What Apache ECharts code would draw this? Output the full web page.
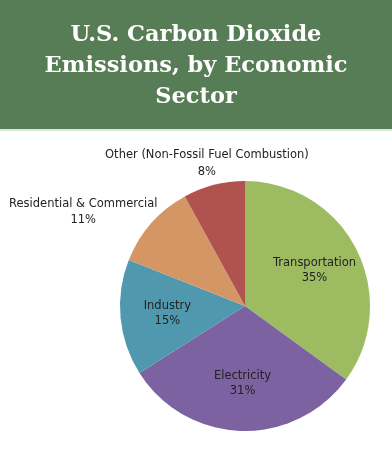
<!DOCTYPE html>
<html>
<head>
<meta charset="utf-8">
<script src="https://cdn.jsdelivr.net/npm/echarts@6/dist/echarts.min.js"></script>
<style>html,body{margin:0;padding:0;background:#fff}#c{width:392px;height:450px}</style>
</head>
<body>
<div id="c"></div>
<script>
const categories = ['Transportation', 'Electricity', 'Industry', 'Residential & Commercial', 'Other (Non-Fossil Fuel Combustion)'];
const values = [35, 31, 15, 11, 8];
const colors = ['#9dbc62', '#7c62a0', '#4f98ae', '#d39664', '#b0534f'];
const titleText = 'U.S. Carbon Dioxide\nEmissions, by Economic\nSector';
const insideSet = [true, true, true, false, false];

const data = categories.map((n, i) => ({ name: n, value: values[i], itemStyle: { color: colors[i] } }));
const labelFont = "'DejaVu Sans', Verdana, sans-serif";

const chart = echarts.init(document.getElementById('c'), null, { renderer: 'canvas' });
chart.setOption({
  backgroundColor: '#ffffff',
  animation: false,
  graphic: [
    { type: 'rect', left: 0, top: 0, shape: { width: 392, height: 129 }, style: { fill: '#577d56' }, z: 0 },
    { type: 'rect', left: 0, top: 129, shape: { width: 392, height: 2 }, style: { fill: '#dce6d9' }, z: 0 }
  ],
  title: {
    text: titleText,
    left: 'center',
    top: 15,
    textStyle: { color: '#ffffff', fontFamily: "'DejaVu Serif', serif", fontWeight: 'bold', fontSize: 22.5, lineHeight: 31 }
  },
  series: [
    {
      type: 'pie',
      center: [245, 306],
      radius: [0, 125],
      startAngle: 90,
      clockwise: true,
      silent: true,
      data: data.map((d, i) => Object.assign({}, d, {
        label: { show: !insideSet[i] },
        labelLine: { show: false, length: 8, length2: 0 }
      })),
      label: {
        position: 'outside',
        formatter: '{b}\n{c}%',
        color: '#222',
        fontFamily: labelFont,
        fontSize: 11.5,
        lineHeight: 16.5,
        overflow: 'none'
      },
      labelLayout: function (p) {
        if (p.dataIndex === 4) return { align: 'center', verticalAlign: 'bottom', dy: 3 };
        if (p.dataIndex === 3) return { align: 'center', dx: -57, dy: -6 };
        return {};
      }
    },
    {
      type: 'pie',
      center: [245, 306],
      radius: [0, 150],
      startAngle: 90,
      clockwise: true,
      silent: true,
      itemStyle: { color: 'rgba(0,0,0,0)' },
      data: categories.map((n, i) => ({ name: n, value: values[i], label: { show: insideSet[i] } })),
      label: {
        position: 'inside',
        formatter: '{b}\n{c}%',
        color: '#222',
        fontFamily: labelFont,
        fontSize: 11.5,
        lineHeight: 15
      },
      labelLine: { show: false }
    }
  ]
});
</script>
</body>
</html>
